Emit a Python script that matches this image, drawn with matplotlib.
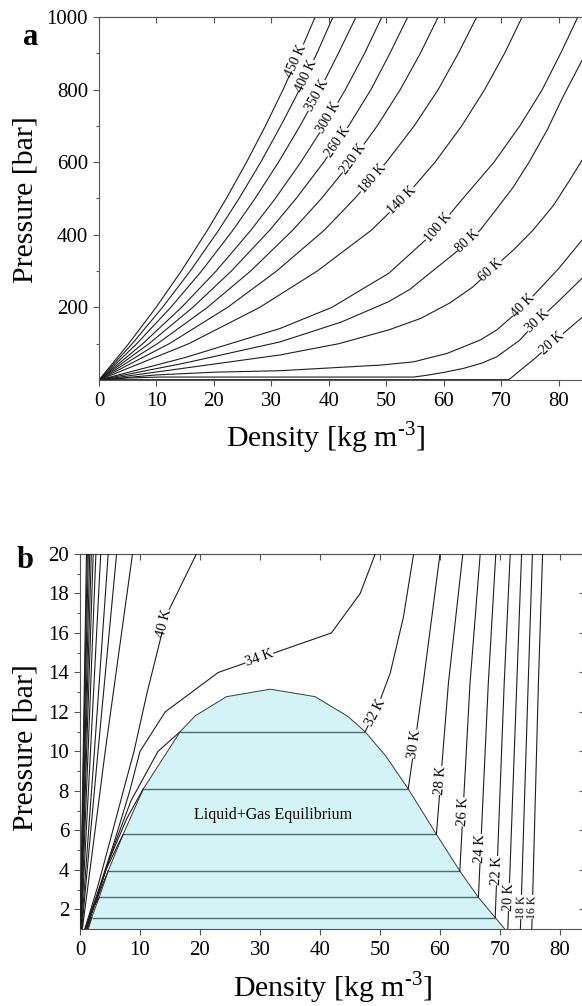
import matplotlib
matplotlib.use('Agg')
import matplotlib.pyplot as plt
import numpy as np

plt.rcParams['font.family'] = ['Liberation Serif', 'DejaVu Serif']
plt.rcParams['mathtext.fontset'] = 'custom'
plt.rcParams['mathtext.rm'] = 'Liberation Serif'

# ---------------- panel a : isotherms up to 1000 bar ----------------
a_p_hi = [1, 100, 200, 300, 413, 500, 600, 700, 800, 900, 1000]
a_rho_450 = [0.05, 5.16, 9.92, 14.31, 18.87, 22.14, 25.66, 28.95, 32.02, 34.88, 37.6]
a_rho_400 = [0.06, 5.78, 11.04, 15.86, 20.83, 24.36, 28.13, 31.61, 34.88, 37.9, 40.7]
a_rho_350 = [0.07, 6.57, 12.48, 17.83, 23.31, 27.14, 31.22, 34.97, 38.44, 41.64, 44.7]
a_rho_300 = [0.08, 7.6, 14.35, 20.37, 26.44, 30.67, 35.1, 39.15, 42.86, 46.2, 49.2]
a_rho_260 = [0.09, 8.7, 16.31, 23.01, 29.71, 34.29, 39.09, 43.42, 47.3, 50.6, 53.7]
a_rho_220 = [0.11, 10.16, 18.85, 26.36, 33.71, 38.69, 43.81, 48.39, 52.4, 55.9, 59.0]
a_rho_180 = [0.13, 12.22, 22.35, 30.89, 39.2, 44.48, 49.97, 54.82, 59.0, 62.5, 65.7]
a_rho_140 = [0.17, 15.61, 27.95, 37.95, 47.4, 53.0, 58.45, 63.09, 67.08, 70.55, 73.6]
a_p_100 = [1, 62, 142, 200, 294, 413, 500, 600, 700, 800, 900, 1000]
a_rho_100 = [0.24, 15, 31.5, 40.5, 50.4, 58.7, 63.3, 68.7, 73.2, 77.1, 80.3, 83.3]
a_p_80 = [1, 47, 105, 160, 216, 250, 300, 360, 413, 470, 530, 600, 690, 780, 880]
a_rho_80 = [0.3, 15, 31.5, 42.2, 50.4, 54.1, 58.0, 62.7, 66.3, 69.1, 72.0, 74.8, 78.0, 80.7, 84.0]
a_p_60 = [1, 33, 69, 100, 138, 170, 212, 256, 300, 360, 413, 480, 551, 605]
a_rho_60 = [0.4, 15, 31.5, 41.7, 50.4, 56, 61, 65, 68, 72.2, 75.5, 79.0, 81.9, 84]
a_p_40 = [1, 14, 21.5, 25.6, 41, 50, 73, 110, 138, 185, 240, 308, 385]
a_rho_40 = [0.6, 10, 20, 31.5, 48.9, 54.7, 60.5, 66.3, 69.2, 72.6, 76, 80, 84]
a_p_30 = [1, 5.5, 8.1, 8.1, 13, 21, 32, 46, 64, 110, 160, 218, 280]
a_rho_30 = [0.8, 5, 10.5, 54.7, 57, 60, 63.4, 66.5, 69.2, 73.2, 76.1, 80, 84]
a_p_20 = [0.5, 0.93, 0.93, 62, 118, 172]
a_rho_20 = [0.3, 1.2, 71.3, 76, 80, 84]

a_curves = [
    ('450 K', a_rho_450, a_p_hi), ('400 K', a_rho_400, a_p_hi),
    ('350 K', a_rho_350, a_p_hi), ('300 K', a_rho_300, a_p_hi),
    ('260 K', a_rho_260, a_p_hi), ('220 K', a_rho_220, a_p_hi),
    ('180 K', a_rho_180, a_p_hi), ('140 K', a_rho_140, a_p_hi),
    ('100 K', a_rho_100, a_p_100), ('80 K', a_rho_80, a_p_80),
    ('60 K', a_rho_60, a_p_60), ('40 K', a_rho_40, a_p_40),
    ('30 K', a_rho_30, a_p_30), ('20 K', a_rho_20, a_p_20),
]
# where the temperature labels sit (density, pressure)
a_label_pos = [(33.5, 886), (35.1, 845), (36.7, 794), (38.7, 735), (40.1, 670),
               (43.4, 620), (46.8, 565), (51.8, 510), (58.1, 432), (63.9, 386),
               (67.7, 312), (72.9, 216), (75.8, 170), (78.7, 105)]

# ---------------- panel b : low pressure region ----------------
b_p_sc = [1, 10, 20]
b_rho_sc = {
    60: [0.4, 4.2, 8.75], 80: [0.3, 3.0, 6.1], 100: [0.24, 2.4, 4.7],
    140: [0.17, 1.75, 3.45], 180: [0.135, 1.35, 2.65], 220: [0.11, 1.1, 2.2],
    260: [0.093, 0.94, 1.88], 300: [0.08, 0.81, 1.62], 350: [0.07, 0.69, 1.39],
    400: [0.06, 0.61, 1.22], 450: [0.055, 0.54, 1.08],
}
b_rho_40 = [0.8, 3.0, 5.3, 7.4, 9.0, 11.2, 14.4, 19.4]
b_p_40 = [1, 3.2, 5.8, 8.2, 10, 13, 16.9, 20]
b_rho_34 = [0.85, 3.0, 5.8, 8.3, 10.0, 14.2, 23.05, 41.9, 46.7, 49.2]
b_p_34 = [1, 2.9, 5.5, 8.0, 10.0, 12.0, 14.0, 16.0, 18.0, 20.0]

# vapour branches (end on the saturation curve)
b_vap_32 = ([0.9, 2.8, 5.4, 8.5, 13.0, 16.7], [1, 2.6, 5.0, 7.5, 10.0, 11.0])
b_vap_30 = ([0.95, 2.6, 5.0, 7.8, 10.55], [1, 2.4, 4.6, 6.6, 8.1])
b_vap_28 = ([1.0, 2.4, 4.3, 7.2], [1, 2.2, 4.0, 5.8])
b_vap_26 = ([1.1, 2.2, 3.7, 4.7], [1, 2.0, 3.2, 3.94])
b_vap_24 = ([1.15, 2.0, 3.2], [1, 2.0, 2.6])
b_vap_22 = ([1.25, 1.95], [1, 1.58])

# liquid branches
b_liq_32 = ([47.5, 49.4, 51.7, 53.9, 55.6], [11.0, 12.1, 13.96, 16.8, 20])
b_liq_30 = ([54.7, 55.9, 57.2, 60.0], [8.1, 10.6, 13.45, 20])
b_liq_28 = ([59.4, 61.4, 63.8], [5.8, 13.45, 20])
b_liq_26 = ([63.3, 65.0, 66.7], [3.94, 13.45, 20])
b_liq_24 = ([66.4, 68.05, 69.3], [2.6, 13.45, 20])
b_liq_22 = ([69.2, 70.7, 71.7], [1.58, 13.45, 20])
b_liq_20 = ([71.3, 72.8, 73.6], [1.0, 13.45, 20])
b_liq_18 = ([73.4, 74.7, 75.4], [1.0, 13.45, 20])
b_liq_16 = ([75.3, 76.4, 77.1], [1.0, 13.45, 20])

# two-phase tie lines
tie_p = [1.58, 2.6, 3.94, 5.8, 8.1, 11.0]
tie_rho_vap = [1.95, 3.2, 4.7, 7.2, 10.55, 16.7]
tie_rho_liq = [69.2, 66.4, 63.3, 59.4, 54.7, 47.5]

# saturation dome
dome_rho = [1.4, 1.95, 3.2, 4.7, 7.2, 10.55, 16.7, 19.2, 24.4, 31.7, 36.7, 39.2,
            44.7, 47.5, 51.0, 54.7, 59.4, 63.3, 66.4, 69.2, 70.8]
dome_p = [1.0, 1.58, 2.6, 3.94, 5.8, 8.1, 11.0, 11.8, 12.77, 13.15, 12.9, 12.77,
          11.76, 11.0, 9.75, 8.1, 5.8, 3.94, 2.6, 1.58, 1.0]

b_labels = [('40 K', b_rho_40, b_p_40, (12.8, 16.57), 10.5),
            ('34 K', b_rho_34, b_p_34, (29.4, 15.14), 10.5),
            ('32 K', *b_liq_32, (47.9, 12.18), 10.5),
            ('30 K', *b_liq_30, (54.9, 10.41), 10.5),
            ('28 K', *b_liq_28, (59.2, 8.55), 10.5),
            ('26 K', *b_liq_26, (63.05, 6.95), 10.5),
            ('24 K', *b_liq_24, (65.8, 5.09), 10.5),
            ('22 K', *b_liq_22, (68.3, 3.97), 10.5),
            ('20 K', *b_liq_20, (70.55, 2.63), 10),
            ('18 K', *b_liq_18, (72.8, 2.13), 8.5),
            ('16 K', *b_liq_16, (74.55, 2.13), 8.5)]

LINE = '#1e1e1e'
SPINE = '#555555'
W, H = 582, 1006


def box(l, t, r, b):
    return [l / W, 1 - b / H, (r - l) / W, (b - t) / H]


def put_label(ax, xs, ys, text, tx, ty, size):
    pts = ax.transData.transform(np.column_stack([xs, ys]))
    tgt = ax.transData.transform((tx, ty))
    best = None
    for i in range(len(pts) - 1):
        a, b = pts[i], pts[i + 1]
        d = b - a
        l2 = d @ d
        if l2 == 0:
            continue
        t = np.clip(((tgt - a) @ d) / l2, 0, 1)
        p = a + t * d
        dist = np.hypot(*(p - tgt))
        if best is None or dist < best[0]:
            best = (dist, p, d)
    _, p, d = best
    ang = np.degrees(np.arctan2(d[1], d[0]))
    if ang > 90:
        ang -= 180
    if ang < -90:
        ang += 180
    x, y = ax.transData.inverted().transform(p)
    ax.text(x, y, text, fontsize=size, rotation=ang, rotation_mode='anchor',
            ha='center', va='center', zorder=5,
            bbox=dict(facecolor='white', edgecolor='none', pad=0.2))


def style(ax):
    for s in ax.spines.values():
        s.set_color(SPINE)
        s.set_linewidth(0.8)
    ax.tick_params(which='both', direction='out', color=SPINE, width=0.8,
                   labelsize=15, labelcolor='black')
    ax.tick_params(which='major', length=4.5)
    ax.tick_params(which='minor', length=2.5)
    ax.tick_params(axis='y', which='major', pad=3.4)
    ax.tick_params(axis='x', which='major', pad=4.0)
    ax.tick_params(axis='x', which='minor', bottom=False)
    top = ax.secondary_xaxis('top')
    top.set_xticks(ax.get_xticks())
    top.tick_params(direction='in', length=4.5, color=SPINE, width=0.8, labeltop=False)
    top.spines['top'].set_color(SPINE)
    top.spines['top'].set_linewidth(0.8)
    return top


fig = plt.figure(figsize=(W / 100, H / 100), dpi=100)

# ----- panel a -----
ax_a = fig.add_axes(box(99, 17, 582.5, 380))
ax_a.set_xlim(0, 84.1)
ax_a.set_ylim(0, 1000)
ax_a.set_xticks(np.arange(0, 81, 10))
ax_a.set_yticks([200, 400, 600, 800, 1000])
ax_a.set_yticks(np.arange(100, 1000, 200), minor=True)
style(ax_a)
for name, r, p in a_curves:
    ax_a.plot(r, p, color=LINE, lw=0.8)
for (name, r, p), (lx, ly) in zip(a_curves, a_label_pos):
    put_label(ax_a, r, p, name, lx, ly, 10)

# ----- panel b -----
ax_b = fig.add_axes(box(80, 554, 582.5, 929))
ax_b.set_xlim(0, 83.75)
ax_b.set_ylim(1, 20)
ax_b.set_xticks(np.arange(0, 81, 10))
ax_b.set_yticks(np.arange(2, 21, 2))
ax_b.set_yticks(np.arange(3, 20, 2), minor=True)
style(ax_b)
right = ax_b.secondary_yaxis('right')
right.set_yticks(np.arange(2, 21, 2))
right.tick_params(direction='in', length=3, color=SPINE, width=0.8, labelright=False)
right.spines['right'].set_color(SPINE)

ax_b.fill(dome_rho, dome_p, color='#d3f3f6', zorder=1, lw=0)
ax_b.plot(dome_rho, dome_p, color='#3a3a3a', lw=0.7, zorder=3)
ax_b.hlines(tie_p, tie_rho_vap, tie_rho_liq, color='#4f6b70', lw=1.0, zorder=2)

for T, r in b_rho_sc.items():
    ax_b.plot(r, b_p_sc, color=LINE, lw=0.8, zorder=3)
ax_b.plot(b_rho_40, b_p_40, color=LINE, lw=0.8, zorder=3)
ax_b.plot(b_rho_34, b_p_34, color=LINE, lw=0.8, zorder=3)
for r, p in [b_vap_32, b_vap_30, b_vap_28, b_vap_26, b_vap_24, b_vap_22,
             b_liq_32, b_liq_30, b_liq_28, b_liq_26, b_liq_24, b_liq_22,
             b_liq_20, b_liq_18, b_liq_16]:
    ax_b.plot(r, p, color=LINE, lw=0.8, zorder=3)
for name, r, p, (lx, ly), fs in b_labels:
    put_label(ax_b, r, p, name, lx, ly, fs)

ax_b.text(32.2, 6.78, 'Liquid+Gas Equilibrium', fontsize=11.5,
          ha='center', va='center', zorder=4)

# ----- axis titles and panel letters -----
xlab = 'Density [kg m$^{\\mathrm{\u20103}}$]'
fig.text(326 / W, 1 - 447 / H, xlab, fontsize=21.5, ha='center', va='baseline')
fig.text(333 / W, 1 - 997 / H, xlab, fontsize=21.5, ha='center', va='baseline')
fig.text(26 / W, 1 - 200 / H, 'Pressure [bar]', fontsize=21.5, rotation=90,
         ha='center', va='center')
fig.text(26 / W, 1 - 748 / H, 'Pressure [bar]', fontsize=21.5, rotation=90,
         ha='center', va='center')
fig.text(30.5 / W, 1 - 45 / H, 'a', fontsize=22, fontweight='bold',
         ha='center', va='baseline')
fig.text(25 / W, 1 - 568 / H, 'b', fontsize=22, fontweight='bold',
         ha='center', va='baseline')

fig.savefig('out.png', dpi=100)
